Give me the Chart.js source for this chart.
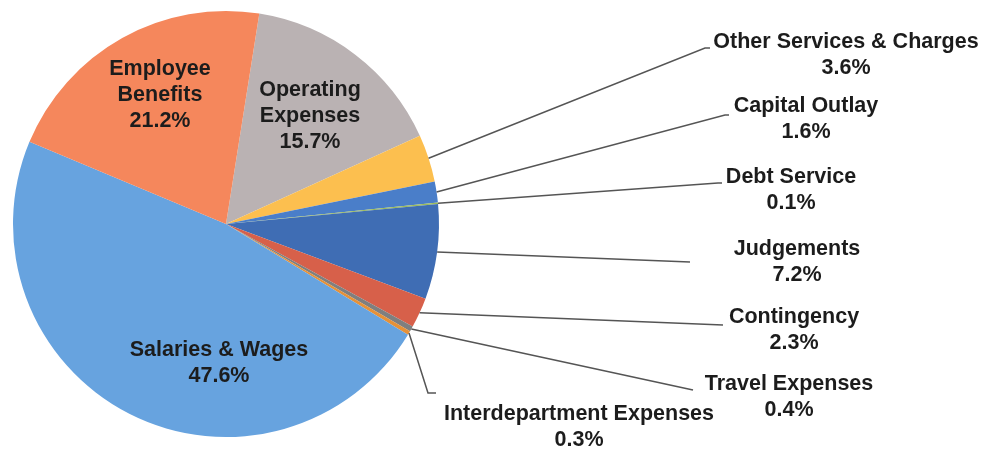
<!DOCTYPE html>
<html>
<head>
<meta charset="utf-8">
<title>Expenditures by Category</title>
<script src="https://cdn.jsdelivr.net/npm/chart.js@4.4.0/dist/chart.umd.min.js"></script>
<style>
  html, body { margin: 0; padding: 0; background: #fff; }
  #wrap { width: 998px; height: 452px; }
</style>
</head>
<body>
<div id="wrap"><canvas id="myChart" width="998" height="452"></canvas></div>
<script>
// budget split, clockwise from the top of the pie
const categories = [
    'Operating Expenses',
    'Other Services & Charges',
    'Capital Outlay',
    'Debt Service',
    'Judgements',
    'Contingency',
    'Travel Expenses',
    'Interdepartment Expenses',
    'Salaries & Wages',
    'Employee Benefits'
];
const shares = [15.7, 3.6, 1.6, 0.1, 7.2, 2.3, 0.4, 0.3, 47.6, 21.2];

const sliceColors = [
    '#bab2b3', '#fcbf4f', '#4a7ec9', '#9bbb59', '#3f6db4',
    '#d7604a', '#7f7f7f', '#e69138', '#67a3df', '#f5875c'
];

// where each label sits; outside labels get a leader line back to their slice
const labelSpots = [
    { x: 310, y: 96, lines: ['Operating', 'Expenses'] },
    { x: 846, y: 48, leader: [[705, 48], [710, 48]] },
    { x: 806, y: 112, leader: [[725, 115], [729, 115]] },
    { x: 791, y: 183, leader: [[718, 183], [722, 183]] },
    { x: 797, y: 255, leader: [[690, 262]] },
    { x: 794, y: 323, leader: [[723, 325]] },
    { x: 789, y: 390, leader: [[693, 390]] },
    { x: 579, y: 420, leader: [[428, 393], [436, 393]] },
    { x: 219, y: 356 },
    { x: 160, y: 75, lines: ['Employee', 'Benefits'] }
];

const pieLabels = {
    id: 'pieLabels',
    afterDatasetsDraw(chart) {
        const ctx = chart.ctx;
        const arcs = chart.getDatasetMeta(0).data;
        ctx.save();
        ctx.font = 'bold 21.5px "Liberation Sans", Arial, sans-serif';
        ctx.textAlign = 'center';
        ctx.textBaseline = 'alphabetic';
        for (let i = 0; i < arcs.length; i++) {
            const spot = labelSpots[i];
            if (spot.leader) {
                const p = arcs[i].getProps(['x', 'y', 'startAngle', 'endAngle', 'outerRadius'], true);
                const mid = (p.startAngle + p.endAngle) / 2;
                ctx.beginPath();
                ctx.moveTo(p.x + Math.cos(mid) * p.outerRadius, p.y + Math.sin(mid) * p.outerRadius);
                spot.leader.forEach(pt => ctx.lineTo(pt[0], pt[1]));
                ctx.strokeStyle = '#555555';
                ctx.lineWidth = 1.5;
                ctx.stroke();
            }
            const lines = (spot.lines || [categories[i]]).concat(shares[i].toFixed(1) + '%');
            ctx.fillStyle = '#1c1c1c';
            lines.forEach((t, k) => ctx.fillText(t, spot.x, spot.y + k * 26));
        }
        ctx.restore();
    }
};

const config = {
    type: 'pie',
    data: {
        labels: categories,
        datasets: [{
            data: shares,
            backgroundColor: sliceColors,
            borderWidth: 0,
            hoverOffset: 0
        }]
    },
    options: {
        responsive: false,
        animation: false,
        events: [],
        rotation: 9,
        layout: {
            padding: { left: 13, right: 559, top: 11, bottom: 15 }
        },
        plugins: {
            legend: { display: false },
            tooltip: { enabled: false }
        }
    },
    plugins: [pieLabels]
};

const myChart = new Chart(document.getElementById('myChart'), config);
</script>
</body>
</html>
